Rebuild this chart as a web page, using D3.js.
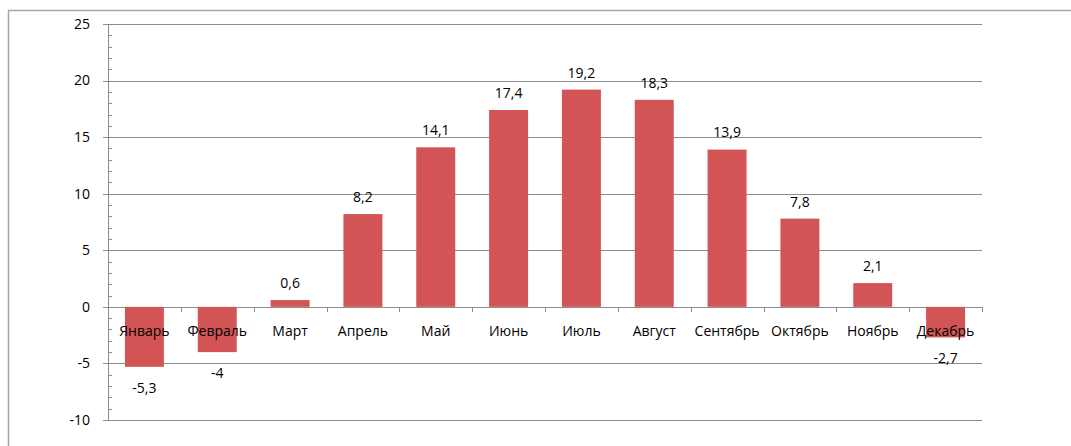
<!DOCTYPE html>
<html>
<head>
<meta charset="utf-8">
<script src="https://cdn.jsdelivr.net/npm/d3@7"></script>
<style>
  body { margin: 0; background: #fff; }
  text { font-family: "Open Sans", "Noto Sans", sans-serif; fill: #000; }
</style>
</head>
<body>
<svg id="chart" width="1071" height="446"></svg>
<script>
// monthly mean temperature
const months = ['Январь', 'Февраль', 'Март', 'Апрель', 'Май', 'Июнь', 'Июль', 'Август', 'Сентябрь', 'Октябрь', 'Ноябрь', 'Декабрь'];
const temps = [-5.3, -4, 0.6, 8.2, 14.1, 17.4, 19.2, 18.3, 13.9, 7.8, 2.1, -2.7];
const yTicks = [-10, -5, 0, 5, 10, 15, 20, 25];

const svg = d3.select('#chart');
const margin = { left: 108, right: 89, top: 24, bottom: 26 };
const width = 1071, height = 446;

// outer chart border (right and bottom run off the picture)
svg.append('rect')
  .attr('x', 8.5).attr('y', 10.5)
  .attr('width', 1080).attr('height', 460)
  .attr('fill', 'none')
  .attr('stroke', '#a6a6a6')
  .attr('stroke-width', 1.5);

const x = d3.scaleBand()
  .domain(months)
  .range([margin.left, width - margin.right])
  .paddingInner(0.465)
  .paddingOuter(0.2325);

const y = d3.scaleLinear()
  .domain([-10, 25])
  .range([height - margin.bottom, margin.top]);

// gridlines
svg.append('g')
  .selectAll('line')
  .data(yTicks)
  .enter().append('line')
    .attr('x1', margin.left - 5)
    .attr('x2', width - margin.right)
    .attr('y1', d => Math.round(y(d)) + 0.5)
    .attr('y2', d => Math.round(y(d)) + 0.5)
    .attr('stroke', '#8c8c8c')
    .attr('stroke-width', 1);

// minor ticks, every unit
svg.append('g')
  .selectAll('line')
  .data(d3.range(-10, 26).filter(v => v % 5 !== 0))
  .enter().append('line')
    .attr('x1', margin.left)
    .attr('x2', margin.left + 4)
    .attr('y1', d => Math.round(y(d)) + 0.5)
    .attr('y2', d => Math.round(y(d)) + 0.5)
    .attr('stroke', '#8c8c8c');

// y axis line
svg.append('line')
  .attr('x1', margin.left + 0.5).attr('x2', margin.left + 0.5)
  .attr('y1', y(25)).attr('y2', y(-10))
  .attr('stroke', '#8c8c8c');

// y tick labels
svg.append('g')
  .selectAll('text')
  .data(yTicks)
  .enter().append('text')
    .attr('x', 90)
    .attr('y', d => y(d))
    .attr('dy', '0.35em')
    .attr('text-anchor', 'end')
    .style('font-size', '14px')
    .text(d => d);

// bars
svg.append('g')
  .selectAll('rect')
  .data(temps)
  .enter().append('rect')
    .attr('x', (d, i) => x(months[i]))
    .attr('width', x.bandwidth())
    .attr('y', d => y(Math.max(0, d)))
    .attr('height', d => Math.abs(y(d) - y(0)))
    .attr('fill', '#d35454');

// category ticks on zero line
const step = x.step();
svg.append('g')
  .selectAll('line')
  .data(d3.range(months.length + 1))
  .enter().append('line')
    .attr('x1', i => Math.round(margin.left + i * step) + 0.5)
    .attr('x2', i => Math.round(margin.left + i * step) + 0.5)
    .attr('y1', Math.round(y(0)))
    .attr('y2', Math.round(y(0)) + 5)
    .attr('stroke', '#8c8c8c');

// category labels
svg.append('g')
  .selectAll('text')
  .data(months)
  .enter().append('text')
    .attr('x', d => x(d) + x.bandwidth() / 2)
    .attr('y', y(0) + 24)
    .attr('dy', '0.35em')
    .attr('text-anchor', 'middle')
    .style('font-size', '14px')
    .text(d => d);

// value labels
svg.append('g')
  .selectAll('text')
  .data(temps)
  .enter().append('text')
    .attr('x', (d, i) => x(months[i]) + x.bandwidth() / 2)
    .attr('y', d => d >= 0 ? y(d) - 17 : y(d) + 21)
    .attr('dy', '0.35em')
    .attr('text-anchor', 'middle')
    .style('font-size', '14px')
    .text(d => String(d).replace('.', ','));
</script>
</body>
</html>
